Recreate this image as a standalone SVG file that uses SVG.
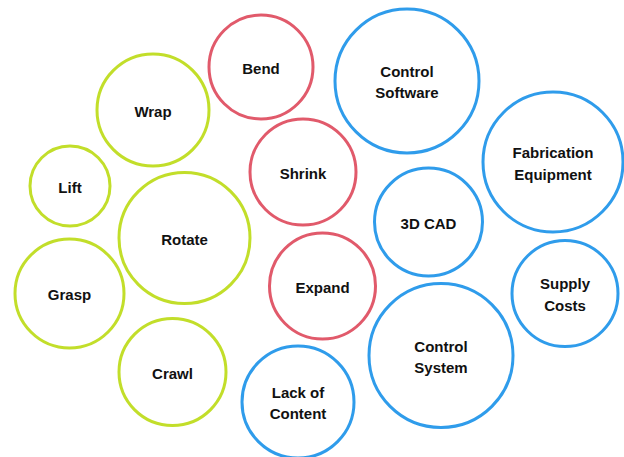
<svg xmlns="http://www.w3.org/2000/svg" width="624" height="457" viewBox="0 0 624 457">
<style>
circle{fill:#fff;stroke-width:3}
.g{stroke:#C2DE2A}
.r{stroke:#E15A6B}
.b{stroke:#2F9CEB}
text{font-family:"Liberation Sans",Arial,sans-serif;font-weight:bold;font-size:15px;fill:#111;text-anchor:middle}
</style>
<rect width="624" height="457" fill="#fff"/>
<g id="connectors"/>
<g id="bend"><circle class="r" cx="261" cy="67" r="52"/><text x="261" y="74">Bend</text></g>
<g id="control-software"><circle class="b" cx="407" cy="81" r="72"/><text x="407" y="77">Control</text><text x="407" y="98">Software</text></g>
<g id="wrap"><circle class="g" cx="153" cy="110" r="56"/><text x="153" y="117">Wrap</text></g>
<g id="fabrication-equipment"><circle class="b" cx="553" cy="162" r="70"/><text x="553" y="158">Fabrication</text><text x="553" y="180">Equipment</text></g>
<g id="shrink"><circle class="r" cx="303" cy="172" r="53"/><text x="303" y="179">Shrink</text></g>
<g id="lift"><circle class="g" cx="70" cy="186" r="40"/><text x="70" y="193">Lift</text></g>
<g id="rotate"><circle class="g" cx="184.5" cy="238" r="65.5"/><text x="184.5" y="245">Rotate</text></g>
<g id="cad"><circle class="b" cx="428.5" cy="222" r="54"/><text x="428.5" y="229">3D CAD</text></g>
<g id="grasp"><circle class="g" cx="69.5" cy="293.5" r="54.5"/><text x="69.5" y="300">Grasp</text></g>
<g id="expand"><circle class="r" cx="322.5" cy="286" r="53"/><text x="322.5" y="293">Expand</text></g>
<g id="supply-costs"><circle class="b" cx="565" cy="293.5" r="53"/><text x="565" y="289">Supply</text><text x="565" y="311">Costs</text></g>
<g id="control-system"><circle class="b" cx="441" cy="355.5" r="72"/><text x="441" y="352">Control</text><text x="441" y="373">System</text></g>
<g id="crawl"><circle class="g" cx="172.5" cy="372" r="53.5"/><text x="172.5" y="379">Crawl</text></g>
<g id="lack-of-content"><circle class="b" cx="298" cy="402" r="56"/><text x="298" y="398">Lack of</text><text x="298" y="419">Content</text></g>
</svg>
